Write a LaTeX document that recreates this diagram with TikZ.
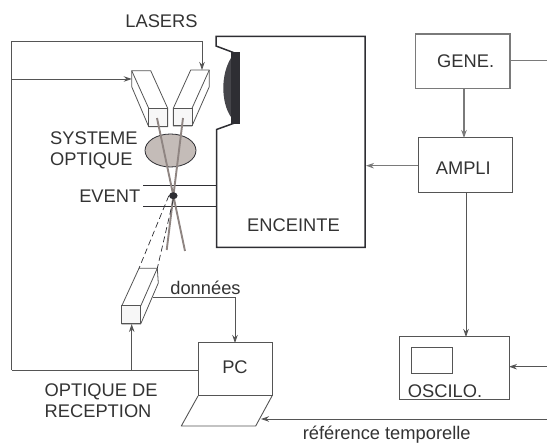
\documentclass[tikz,border=0pt]{standalone}
\usepackage{fontspec}
\setmainfont{Liberation Sans}
\usetikzlibrary{arrows.meta,calc,shapes.geometric}
\definecolor{ln}{HTML}{555555}
\definecolor{gr}{HTML}{7A7A7A}
\definecolor{bm}{HTML}{8F8582}
\definecolor{dk}{HTML}{2E2E33}
\definecolor{dkl}{HTML}{45454A}
\definecolor{tx}{HTML}{333333}
\definecolor{lensc}{HTML}{C4BCB8}
\tikzset{
 wire/.style={draw=ln,line width=0.9pt},
 arr/.style={wire,-{Stealth[length=8pt,width=5.5pt]}},
 boxn/.style={draw=ln,line width=1pt,anchor=north west,inner sep=0pt,outer sep=0pt},
 lab/.style={text=tx,font=\fontsize{18.3}{21}\selectfont,inner sep=0pt},
 optic/.style={draw=ln,line width=0.8pt,line join=round},
 beam/.style={draw=bm,line width=1.9pt},
 tube/.style={draw=dk,line width=1.2pt},
 dashtwo/.style={draw=dk,line width=0.7pt,dash pattern=on 6pt off 3.5pt},
}
\begin{document}
\begin{tikzpicture}[x=1pt,y=-1pt]
\useasboundingbox (0,0) rectangle (547,443);
% enceinte
\draw[draw=dk,line width=1.5pt,line join=miter] (236,53.5) -- (216,46) -- (216,36.5) -- (365,36.5) -- (365,247.5) -- (216.5,247.5) -- (216.5,129.5) -- (236,122.5);
\fill[dkl] (231,58) .. controls (226,66) and (223.3,77) .. (223.3,88) .. controls (223.3,99) and (226,110) .. (231,117) -- cycle;
\fill[dk] (230.7,51.7) rectangle (240,124.3);
% tubes
\coordinate (t1) at (143,185.7); \coordinate (t1e) at (216,185.7);
\coordinate (t2) at (143,206.7); \coordinate (t2e) at (216,206.7);
\draw[tube] (t1) -- (t1e);
\draw[tube] (t2) -- (t2e);
% lens
\node[ellipse,draw=dk,line width=0.8pt,fill=lensc,minimum width=51pt,minimum height=33pt,inner sep=0pt] (lens) at (170.5,150.5) {};
% lasers
\draw[optic,fill=white] (131.7,70.7) -- (150.7,70.7) -- (167.7,108.3) -- (167.7,126.7) -- (148.7,126.7) -- (131.7,86.7) -- cycle;
\draw[optic] (131.7,70.7) -- (148.7,108.3);
\node[boxn,fill=black!3,minimum width=19pt,minimum height=18.4pt] (lasL) at (148.7,108.3) {};
\draw[optic,fill=white] (190.7,70) -- (209.3,70) -- (209.3,86.7) -- (192,126) -- (173.3,126) -- (173.3,108.3) -- cycle;
\draw[optic] (209.3,70) -- (192,108.3);
\node[boxn,fill=black!3,minimum width=18.7pt,minimum height=17.7pt] (lasR) at (173.3,108.3) {};
\coordinate (lasLtop) at (131.7,79);
\coordinate (lasRtop) at (202,70);
% receiver
\draw[optic] (139,268.3) -- (157.3,268.3) -- (158.3,283) -- (140.7,324) -- (121.7,324) -- (121.7,306) -- cycle;
\draw[optic] (157.3,268.3) -- (140.7,306);
\node[boxn,fill=black!3,minimum width=19pt,minimum height=18pt] (rec) at (121.7,306) {};
% beams
\coordinate (b1a) at (157,118); \coordinate (b1b) at (185,251);
\coordinate (b2a) at (183,118); \coordinate (b2b) at (166.7,250);
\draw[beam] (b1a) -- (b1b);
\draw[beam] (b2a) -- (b2b);
% event
\node[ellipse,fill=dk,minimum width=8.5pt,minimum height=7pt,inner sep=0pt] (ev) at (173.3,195.7) {};
\coordinate (rcA) at (139,268.3);
\coordinate (rcB) at (157.3,268.3);
\draw[dashtwo] (ev.west) -- (rcA);
\draw[dashtwo] (ev.south) -- (rcB);
% boxes
\node[boxn,draw=gr,line width=1.2pt,minimum width=94.3pt,minimum height=54.3pt] (gene) at (415.7,34) {};
\node[boxn,minimum width=94pt,minimum height=54.3pt] (ampli) at (418.3,138) {};
\node[boxn,minimum width=110pt,minimum height=63pt] (osc) at (399,337) {};
\node[boxn,minimum width=41.3pt,minimum height=25.6pt] (scr) at (411,347.7) {};
\node[boxn,minimum width=74pt,minimum height=53pt] (pc) at (198,343) {};
\draw[draw=ln,line width=0.9pt,line join=round] (pc.south west) -- (181.3,426) -- (255.7,426) -- (pc.south east);
% wires
\coordinate (lft1) at (11.5,41);
\coordinate (lft2) at (11.5,79);
\coordinate (lft3) at (11.5,370);
\coordinate (topc) at (202,41);
\coordinate (upst) at (131.7,370);
\coordinate (dn) at (152.7,297.3);
\coordinate (rG) at (547,60.7);
\coordinate (rO) at (547,366.7);
\coordinate (rP) at (547,419);
\coordinate (basePt) at (261,419);
\coordinate (enc) at (366,165.7);
\coordinate (aout) at (466,192.3);
\coordinate (gout) at (464,88.3);
\draw[wire] (lft3) -- (lft1) -- (topc);
\draw[arr] (topc) -- (lasRtop);
\draw[arr] (lft2) -- (lasLtop);
\draw[wire] (lft3) -- (pc.west |- lft3);
\draw[arr] (upst) -- (rec.south -| upst);
\draw[arr] (dn) -| (pc.north);
\draw[wire,draw=gr] (gene.east |- rG) -- (rG);
\draw[arr,draw=gr,line width=1.2pt] (gout) -- (gout |- ampli.north);
\draw[arr,draw=gr] (ampli.west |- enc) -- (enc);
\draw[arr] (aout) -- (aout |- osc.north);
\draw[arr] (rO) -- (osc.east |- rO);
\draw[arr] (rP) -- (basePt);
% labels
\node[lab] (lLas) at (161.5,21) {LASERS};
\node[lab,align=left,anchor=west] (lSys) at (50,150.5) {SYSTEME\\OPTIQUE};
\node[lab,anchor=east] (lEv) at (140.5,196.5) {EVENT};
\node[lab] (lEnc) at (293.5,225.7) {ENCEINTE};
\node[lab] (lGen) at (465.7,61.7) {GENE.};
\node[lab] (lAmp) at (463.3,168) {AMPLI};
\node[lab] (lOsc) at (445,391) {OSCILO.};
\node[lab] (lPc) at (235,367.7) {PC};
\node[lab] (lDon) at (205.5,287.7) {données};
\node[lab,align=left,anchor=west] (lRec) at (44.5,401) {OPTIQUE DE\\RECEPTION};
\node[lab] (lRef) at (386.7,435) {référence temporelle};
\end{tikzpicture}
\end{document}
